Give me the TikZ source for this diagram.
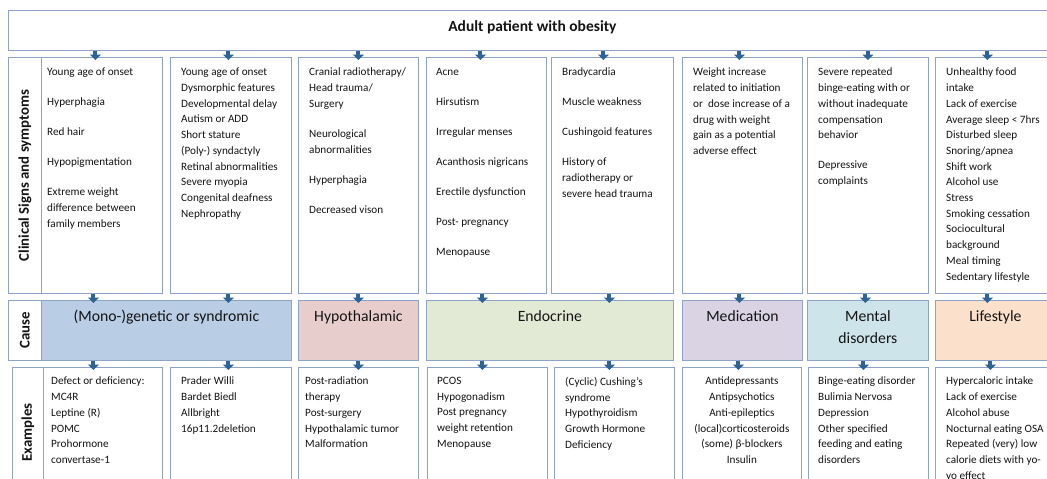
\documentclass[tikz,border=0pt]{standalone}
\usepackage{fontspec}
\setmainfont{Carlito}
\usetikzlibrary{arrows.meta}
\definecolor{boxline}{RGB}{141,163,199}
\definecolor{arrowblue}{RGB}{46,99,150}
\definecolor{ink}{RGB}{20,20,20}
\definecolor{genblue}{RGB}{185,205,229}
\definecolor{hypopink}{RGB}{231,206,205}
\definecolor{endogreen}{RGB}{226,234,214}
\definecolor{medlilac}{RGB}{217,211,228}
\definecolor{mentcyan}{RGB}{205,228,234}
\definecolor{lifepeach}{RGB}{251,224,204}
\newcommand{\itemgap}{14.3pt}

\tikzset{
  cell/.style={draw=boxline, line width=0.8pt, rectangle, anchor=north west, inner sep=0pt},
  list/.style={anchor=north west, align=left, inner sep=0pt, text=ink, font=\fontsize{11.2}{15.7}\selectfont},
  centerlist/.style={anchor=north, align=center, inner sep=0pt, text=ink, font=\fontsize{11.2}{15.7}\selectfont},
  causetext/.style={anchor=north, align=center, inner sep=0pt, text=ink, font=\fontsize{15.7}{22}\selectfont},
  rowlabel/.style={rotate=90, inner sep=0pt, text=ink, font=\fontsize{14.8}{16}\selectfont\bfseries},
  down/.style={draw=arrowblue, line width=4pt, shorten >=-3pt, -{Triangle[width=11pt,length=5.5pt]}},
}

\begin{document}
\begin{tikzpicture}[x=1pt, y=-1pt]
  \useasboundingbox (0,0) rectangle (1047,479);
  \clip (0,0) rectangle (1047,479);
  \fill[white] (0,0) rectangle (1047,479);

  % Top box
  \node[cell, minimum width=1048pt, minimum height=40pt] (top) at (8,10) {};
  \node[inner sep=0pt, text=ink, font=\fontsize{15.5}{17}\selectfont\bfseries] (toptext) at ([yshift=3.5pt]top.center) {Adult patient with obesity};

  % Row labels
  \node[cell, minimum width=33pt, minimum height=236pt] (lab1) at (8,57) {};
  \node[rowlabel] (lab1t) at (lab1.center) {Clinical Signs and symptoms};
  \node[cell, minimum width=33pt, minimum height=60pt] (lab2) at (8,300) {};
  \node[rowlabel] (lab2t) at (lab2.center) {Cause};
  \node[cell, minimum width=31pt, minimum height=130pt] (lab3) at (12,367) {};
  \node[rowlabel] (lab3t) at (lab3.center) {Examples};

  % Clinical signs and symptoms
  \foreach \n/\x/\w in {s1/41/121, s2/170/121, s3/298/120, s4/426/120, s5/551/122, s6/682/120, s7/807/121, s8/935/120} {
    \node[cell, minimum width=\w pt, minimum height=236pt] (\n) at (\x,57) {};
  }
  \node[list] (s1t) at ([xshift=6pt, yshift=-11pt]s1.north west) {Young age of onset\\[\itemgap] Hyperphagia\\[\itemgap] Red hair\\[\itemgap] Hypopigmentation\\[\itemgap] Extreme weight\\ difference between\\ family members};
  \node[list] (s2t) at ([xshift=11pt, yshift=-11pt]s2.north west) {Young age of onset\\ Dysmorphic features\\ Developmental delay\\ Autism or ADD\\ Short stature\\ (Poly-) syndactyly\\ Retinal abnormalities\\ Severe myopia\\ Congenital deafness\\ Nephropathy};
  \node[list] (s3t) at ([xshift=11pt, yshift=-11pt]s3.north west) {Cranial radiotherapy/\\ Head trauma/\\ Surgery\\[\itemgap] Neurological\\ abnormalities\\[\itemgap] Hyperphagia\\[\itemgap] Decreased vison};
  \node[list] (s4t) at ([xshift=10pt, yshift=-11pt]s4.north west) {Acne\\[\itemgap] Hirsutism\\[\itemgap] Irregular menses\\[\itemgap] Acanthosis nigricans\\[\itemgap] Erectile dysfunction\\[\itemgap] Post- pregnancy\\[\itemgap] Menopause};
  \node[list] (s5t) at ([xshift=11pt, yshift=-11pt]s5.north west) {Bradycardia\\[\itemgap] Muscle weakness\\[\itemgap] Cushingoid features\\[\itemgap] History of\\ radiotherapy or\\ severe head trauma};
  \node[list] (s6t) at ([xshift=11pt, yshift=-11pt]s6.north west) {Weight increase\\ related to initiation\\ or~ dose increase of a\\ drug with weight\\ gain as a potential\\ adverse effect};
  \node[list] (s7t) at ([xshift=11pt, yshift=-11pt]s7.north west) {Severe repeated\\ binge-eating with or\\ without inadequate\\ compensation\\ behavior\\[\itemgap] Depressive\\ complaints};
  \node[list] (s8t) at ([xshift=11pt, yshift=-11pt]s8.north west) {Unhealthy food\\ intake\\ Lack of exercise\\ Average sleep < 7hrs\\ Disturbed sleep\\ Snoring/apnea\\ Shift work\\ Alcohol use\\ Stress\\ Smoking cessation\\ Sociocultural\\ background\\ Meal timing\\ Sedentary lifestyle};

  % Cause
  \foreach \n/\x/\w/\c in {gen/41/250/genblue, hyp/298/120/hypopink, endo/426/247/endogreen, med/682/120/medlilac, ment/807/121/mentcyan, life/935/120/lifepeach} {
    \node[cell, fill=\c, minimum width=\w pt, minimum height=60pt] (\n) at (\x,300) {};
  }
  \node[causetext] (gent) at ([yshift=-10pt]gen.north) {(Mono-)genetic or syndromic};
  \node[causetext] (hypt) at ([yshift=-10pt]hyp.north) {Hypothalamic};
  \node[causetext] (endot) at ([yshift=-10pt]endo.north) {Endocrine};
  \node[causetext] (medt) at ([yshift=-10pt]med.north) {Medication};
  \node[causetext] (mentt) at ([yshift=-10pt]ment.north) {Mental\\ disorders};
  \node[causetext] (lifet) at ([yshift=-10pt]life.north) {Lifestyle};

  % Examples
  \foreach \n/\x/\w in {e1/43/119, e2/170/121, e3/298/120, e4/427/120, e5/554/120, e6/682/119, e7/808/120, e8/935/120} {
    \node[cell, minimum width=\w pt, minimum height=130pt] (\n) at (\x,367) {};
  }
  \node[list] (e1t) at ([xshift=8pt, yshift=-10pt]e1.north west) {Defect or deficiency:\\ MC4R\\ Leptine (R)\\ POMC\\ Prohormone\\ convertase-1};
  \node[list] (e2t) at ([xshift=11pt, yshift=-10pt]e2.north west) {Prader Willi\\ Bardet Biedl\\ Allbright\\ 16p11.2deletion};
  \node[list] (e3t) at ([xshift=7pt, yshift=-10pt]e3.north west) {Post-radiation\\ therapy\\ Post-surgery\\ Hypothalamic tumor\\ Malformation};
  \node[list] (e4t) at ([xshift=10pt, yshift=-10pt]e4.north west) {PCOS\\ Hypogonadism\\ Post pregnancy\\ weight retention\\ Menopause};
  \node[list] (e5t) at ([xshift=11pt, yshift=-10pt]e5.north west) {(Cyclic) Cushing’s\\ syndrome\\ Hypothyroidism\\ Growth Hormone\\ Deficiency};
  \node[centerlist] (e6t) at ([yshift=-10pt]e6.north) {Antidepressants\\ Antipsychotics\\ Anti-epileptics\\ (local)corticosteroids\\ (some) β-blockers\\ Insulin};
  \node[list] (e7t) at ([xshift=10pt, yshift=-10pt]e7.north west) {Binge-eating disorder\\ Bulimia Nervosa\\ Depression\\ Other specified\\ feeding and eating\\ disorders};
  \node[list] (e8t) at ([xshift=11pt, yshift=-10pt]e8.north west) {Hypercaloric intake\\ Lack of exercise\\ Alcohol abuse\\ Nocturnal eating OSA\\ Repeated (very) low\\ calorie diets with yo-\\ yo effect};

  % Arrows
  \foreach \n/\dx in {s1/-6.5, s2/-2.5, s3/0, s4/-6, s5/-9, s6/-3, s7/0, s8/-8} {
    \draw[down] ([xshift=\dx pt]\n.north |- top.south) -- ([xshift=\dx pt]\n.north);
  }
  \foreach \a/\b/\dx in {s1/gen/-8.5, s2/gen/-2.5, s3/hyp/0, s4/endo/-4, s5/endo/-3, s6/med/-3, s7/ment/-2.5, s8/life/-8} {
    \draw[down] ([xshift=\dx pt]\a.south) -- ([xshift=\dx pt]\a.south |- \b.north);
  }
  \foreach \a/\b/\dx in {gen/e1/-9.5, gen/e2/-2.5, hyp/e3/0, endo/e4/-5, endo/e5/-5, med/e6/-3.5, ment/e7/-5, life/e8/-5} {
    \draw[down] ([xshift=\dx pt]\b.north |- \a.south) -- ([xshift=\dx pt]\b.north);
  }
\end{tikzpicture}
\end{document}
